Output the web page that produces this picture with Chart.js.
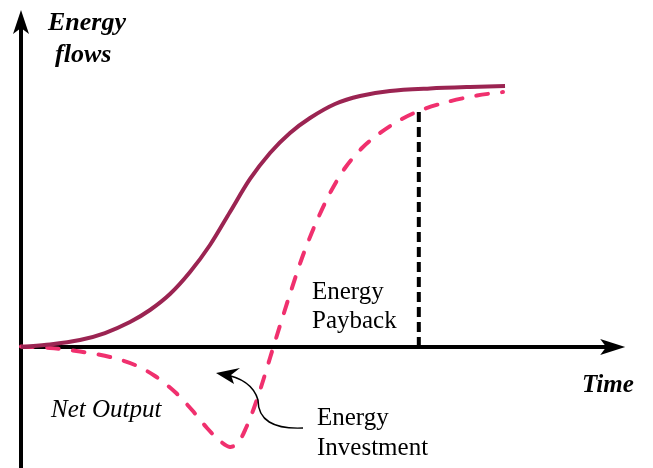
<!DOCTYPE html>
<html>
<head>
<meta charset="utf-8">
<script src="https://cdn.jsdelivr.net/npm/chart.js@4"></script>
<style>
  html, body { margin: 0; padding: 0; background: #fff; }
  #wrap { width: 653px; height: 468px; position: relative; }
</style>
</head>
<body>
<div id="wrap"><canvas id="chart"></canvas></div>
<script>
// time (x) and energy flow (y) in arbitrary units
const grossTime = [0, 4.83, 9.83, 14, 18.17, 21.5, 24.83, 28.17, 31.5, 34.83, 38.17, 41.5, 44.83, 48.17, 52.33, 56.5, 61.5, 68.17, 74.83, 80.67];
const grossFlow = [0, 0.96, 2.69, 5.38, 9.62, 14.23, 20.38, 28.85, 39.23, 51.92, 64.62, 74.62, 82.31, 88.08, 93.46, 96.54, 98.46, 99.42, 100, 100.38];

const netTime = [0, 4.83, 9.83, 14.83, 19, 22.33, 25.67, 28.5, 31, 33.17, 34.83, 36.17, 37.5, 38.83, 40.17, 41.5, 42.83, 44.83, 46.83, 49, 51.5, 54, 56.83, 59.83, 63.17, 66.5, 71, 76, 80.33];
const netFlow = [0.19, -0.38, -1.73, -3.85, -6.92, -11.15, -17.31, -24.23, -31.15, -36.15, -38.46, -36.92, -31.15, -23.46, -14.23, -4.23, 5.77, 20.38, 34.23, 46.92, 59.23, 68.85, 76.54, 82.31, 87.31, 90.96, 94.23, 96.73, 98.08];

const paybackTime = [66.3, 66.3];
const paybackFlow = [0, 91];

const axisEnd = { x: 100.7, y: 129.6 };

const toPoints = (xs, ys) => xs.map((x, i) => ({ x, y: ys[i] }));

const colors = {
  gross: "#9b2452",
  net: "#f0306e",
  ink: "#000000"
};

const serif = "'Liberation Serif'";

const diagramPlugin = {
  id: "energyDiagram",
  beforeDatasetsDraw(chart) {
    const { ctx, scales: { x, y }, chartArea } = chart;
    const x0 = x.getPixelForValue(0);
    const y0 = y.getPixelForValue(0);
    const xTip = x.getPixelForValue(axisEnd.x);
    const yTip = y.getPixelForValue(axisEnd.y);

    ctx.save();
    ctx.strokeStyle = colors.ink;
    ctx.fillStyle = colors.ink;
    ctx.lineWidth = 4;

    // vertical axis
    ctx.beginPath();
    ctx.moveTo(x0, chartArea.bottom);
    ctx.lineTo(x0, yTip + 18);
    ctx.stroke();
    ctx.beginPath();
    ctx.moveTo(x0, yTip);
    ctx.lineTo(x0 - 8, yTip + 24);
    ctx.lineTo(x0, yTip + 18);
    ctx.lineTo(x0 + 8, yTip + 24);
    ctx.closePath();
    ctx.fill();

    // horizontal axis
    ctx.beginPath();
    ctx.moveTo(x0, y0);
    ctx.lineTo(xTip - 18, y0);
    ctx.stroke();
    ctx.beginPath();
    ctx.moveTo(xTip, y0);
    ctx.lineTo(xTip - 25, y0 - 8);
    ctx.lineTo(xTip - 19, y0);
    ctx.lineTo(xTip - 25, y0 + 8);
    ctx.closePath();
    ctx.fill();
    ctx.restore();
  },
  afterDraw(chart) {
    const { ctx } = chart;
    ctx.save();
    ctx.fillStyle = colors.ink;
    ctx.textBaseline = "alphabetic";

    ctx.font = "bold italic 26px " + serif;
    ctx.fillText("Energy", 48, 30);
    ctx.fillText("flows", 55, 62);
    ctx.font = "bold italic 25px " + serif;
    ctx.fillText("Time", 582, 392);

    ctx.font = "italic 25px " + serif;
    ctx.fillText("Net Output", 51, 417);

    ctx.font = "25px " + serif;
    ctx.fillText("Energy", 312, 299);
    ctx.fillText("Payback", 312, 328);
    ctx.fillText("Energy", 317, 425);
    ctx.fillText("Investment", 317, 455);

    // pointer from "Energy Investment" to the dip
    ctx.strokeStyle = colors.ink;
    ctx.lineWidth = 1.5;
    ctx.beginPath();
    ctx.moveTo(303, 428);
    ctx.quadraticCurveTo(258, 430, 258, 400);
    ctx.quadraticCurveTo(252, 379, 222, 374);
    ctx.stroke();
    ctx.beginPath();
    ctx.moveTo(216, 373);
    ctx.lineTo(240, 368);
    ctx.lineTo(231, 375);
    ctx.lineTo(234, 384);
    ctx.closePath();
    ctx.fill();
    ctx.restore();
  }
};

new Chart(document.getElementById("chart"), {
  type: "line",
  data: {
    datasets: [
      {
        label: "Gross output",
        data: toPoints(grossTime, grossFlow),
        borderColor: colors.gross,
        borderWidth: 4,
        pointRadius: 0,
        tension: 0.3
      },
      {
        label: "Net output",
        data: toPoints(netTime, netFlow),
        borderColor: colors.net,
        borderWidth: 4,
        borderDash: [12, 14],
        borderCapStyle: "round",
        pointRadius: 0,
        tension: 0.3
      },
      {
        label: "Payback",
        data: toPoints(paybackTime, paybackFlow),
        borderColor: colors.ink,
        borderWidth: 4,
        borderDash: [10, 5],
        pointRadius: 0
      }
    ]
  },
  options: {
    responsive: true,
    maintainAspectRatio: false,
    animation: false,
    layout: { padding: 0 },
    plugins: {
      legend: { display: false },
      tooltip: { enabled: false }
    },
    scales: {
      x: { type: "linear", min: -3.5, max: 105.33, display: false },
      y: { type: "linear", min: -46.54, max: 133.46, display: false }
    }
  },
  plugins: [diagramPlugin]
});
</script>
</body>
</html>
